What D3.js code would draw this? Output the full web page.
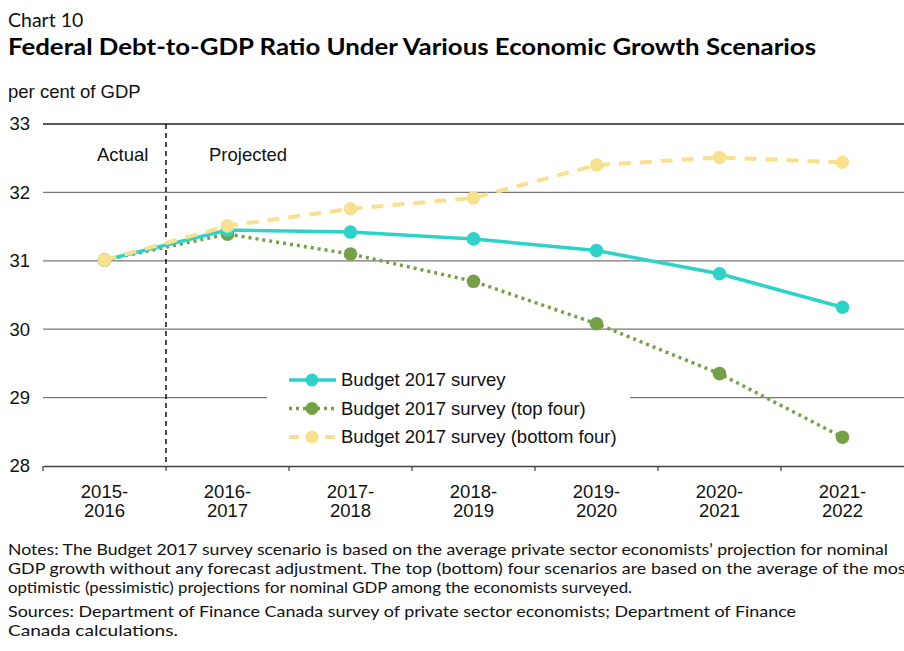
<!DOCTYPE html>
<html><head><meta charset="utf-8">
<script src="https://cdn.jsdelivr.net/npm/d3@7"></script>
<style>body{margin:0;background:#fff;} svg{display:block;}</style>
</head><body>
<svg id="c" width="904" height="651"></svg>
<script>
const categories = [["2015-","2016"],["2016-","2017"],["2017-","2018"],["2018-","2019"],["2019-","2020"],["2020-","2021"],["2021-","2022"]];
const budgetSurvey = [31.01, 31.45, 31.42, 31.32, 31.15, 30.81, 30.32];
const topFour = [31.01, 31.39, 31.10, 30.70, 30.08, 29.35, 28.42];
const bottomFour = [31.01, 31.51, 31.76, 31.92, 32.40, 32.51, 32.44];
const yTicks = [28, 29, 30, 31, 32, 33];
const seriesNames = ["Budget 2017 survey", "Budget 2017 survey (top four)", "Budget 2017 survey (bottom four)"];
const notes = [
 "Notes: The Budget 2017 survey scenario is based on the average private sector economists\u2019 projection for nominal",
 "GDP growth without any forecast adjustment. The top (bottom) four scenarios are based on the average of the most",
 "optimistic (pessimistic) projections for nominal GDP among the economists surveyed."
];
const sources = [
 "Sources: Department of Finance Canada survey of private sector economists; Department of Finance",
 "Canada calculations."
];

const svg = d3.select("#c");
const L = 43, R = 904, T = 124, B = 466;
const x = d3.scaleBand().domain(d3.range(categories.length)).range([L, R]);
const y = d3.scaleLinear().domain([28, 33]).range([B, T]);
const sans = "Liberation Sans, Arial, sans-serif";
const geo = "Lato, 'Noto Sans', sans-serif";
const fs = 18.5;

svg.append("text").attr("x", 8).attr("y", 27).attr("font-family", geo).attr("font-size", 19.5).attr("fill", "#111").text("Chart 10");
svg.append("text").attr("x", 8).attr("y", 55).attr("font-family", geo).attr("font-weight", "bold").attr("font-size", 22)
  .attr("textLength", 808).attr("lengthAdjust", "spacingAndGlyphs").attr("fill", "#000")
  .text("Federal Debt-to-GDP Ratio Under Various Economic Growth Scenarios");
svg.append("text").attr("x", 8).attr("y", 98).attr("font-family", sans).attr("font-size", fs).attr("fill", "#111").text("per cent of GDP");

// gridlines
svg.append("g").selectAll("line").data(yTicks.filter(d => d > 28)).join("line")
  .attr("x1", L).attr("x2", R).attr("y1", d => y(d)).attr("y2", d => y(d))
  .attr("stroke", d => d === 33 ? "#222" : "#777").attr("stroke-width", 1.3);

// y labels
svg.append("g").selectAll("text").data(yTicks).join("text")
  .attr("x", 30).attr("y", d => y(d)).attr("dy", "0.35em").attr("text-anchor", "end")
  .attr("font-family", sans).attr("font-size", fs).attr("fill", "#111").text(d => d);

// x axis
const xa = svg.append("g").attr("transform", `translate(0,${B})`)
  .call(d3.axisBottom(x).tickSize(0).tickFormat(""));
xa.select(".domain").attr("stroke", "#444").attr("stroke-width", 1.3);
const bounds = d3.range(categories.length + 1).map(i => L + i * x.step());
svg.append("g").selectAll("line").data(bounds.slice(0, -1)).join("line")
  .attr("x1", d => d).attr("x2", d => d).attr("y1", B).attr("y2", B + 5).attr("stroke", "#444").attr("stroke-width", 1.3);
const xl = svg.append("g").selectAll("text").data(categories).join("text")
  .attr("x", (d, i) => x(i) + x.bandwidth() / 2).attr("y", 498)
  .attr("text-anchor", "middle").attr("font-family", sans).attr("font-size", fs).attr("fill", "#111");
xl.append("tspan").attr("x", (d, i) => x(i) + x.bandwidth() / 2).attr("dy", 0).text(d => d[0]);
xl.append("tspan").attr("x", (d, i) => x(i) + x.bandwidth() / 2).attr("dy", 19).text(d => d[1]);

// Actual / Projected divider
svg.append("line").attr("x1", x(1)).attr("x2", x(1)).attr("y1", T).attr("y2", B)
  .attr("stroke", "#111").attr("stroke-width", 1.5).attr("stroke-dasharray", "5,4");
svg.append("text").attr("x", 97).attr("y", 161)
  .attr("font-family", sans).attr("font-size", fs).attr("fill", "#111").text("Actual");
svg.append("text").attr("x", 209).attr("y", 161)
  .attr("font-family", sans).attr("font-size", fs).attr("fill", "#111").text("Projected");

const cx = i => x(i) + x.bandwidth() / 2;
const line = d3.line().x((d, i) => cx(i)).y(d => y(d));
const series = [
  {name: seriesNames[1], data: topFour, color: "#76A046", dash: "3,4", width: 3.5},
  {name: seriesNames[0], data: budgetSurvey, color: "#2DD3C9", dash: null, width: 3.5},
  {name: seriesNames[2], data: bottomFour, color: "#F9E08E", dash: "12,9", width: 4}
];
series.forEach(s => {
  svg.append("path").datum(s.data).attr("d", line).attr("fill", "none")
    .attr("stroke", s.color).attr("stroke-width", s.width).attr("stroke-dasharray", s.dash);
  svg.append("g").selectAll("circle").data(s.data).join("circle")
    .attr("cx", (d, i) => cx(i)).attr("cy", d => y(d)).attr("r", 6.8).attr("fill", s.color);
});

// legend
const lg = svg.append("g");
lg.append("rect").attr("x", 267).attr("y", 364).attr("width", 363).attr("height", 86).attr("fill", "#fff");
const legendOrder = [series[1], series[0], series[2]];
legendOrder.forEach((s, k) => {
  const ly = 380 + k * 28.5;
  lg.append("line").attr("x1", 289).attr("x2", 336).attr("y1", ly).attr("y2", ly)
    .attr("stroke", s.color).attr("stroke-width", s.width).attr("stroke-dasharray", s.dash === "12,9" ? "10,8" : s.dash);
  lg.append("circle").attr("cx", 312).attr("cy", ly).attr("r", 6.5).attr("fill", s.color);
  lg.append("text").attr("x", 341).attr("y", ly).attr("dy", "0.35em")
    .attr("font-family", sans).attr("font-size", fs).attr("fill", "#111").text(s.name);
});

// notes
const noteLens = [880, 904, 624];
notes.forEach((t, i) => {
  svg.append("text").attr("x", 8).attr("y", 555 + i * 19).attr("font-family", geo).attr("font-size", 15)
    .attr("fill", "#111").attr("textLength", noteLens[i]).attr("lengthAdjust", "spacingAndGlyphs").text(t);
});
const srcLens = [788, 170];
sources.forEach((t, i) => {
  svg.append("text").attr("x", 8).attr("y", 617 + i * 19).attr("font-family", geo).attr("font-size", 15)
    .attr("fill", "#111").attr("textLength", srcLens[i]).attr("lengthAdjust", "spacingAndGlyphs").text(t);
});
</script>
</body></html>
